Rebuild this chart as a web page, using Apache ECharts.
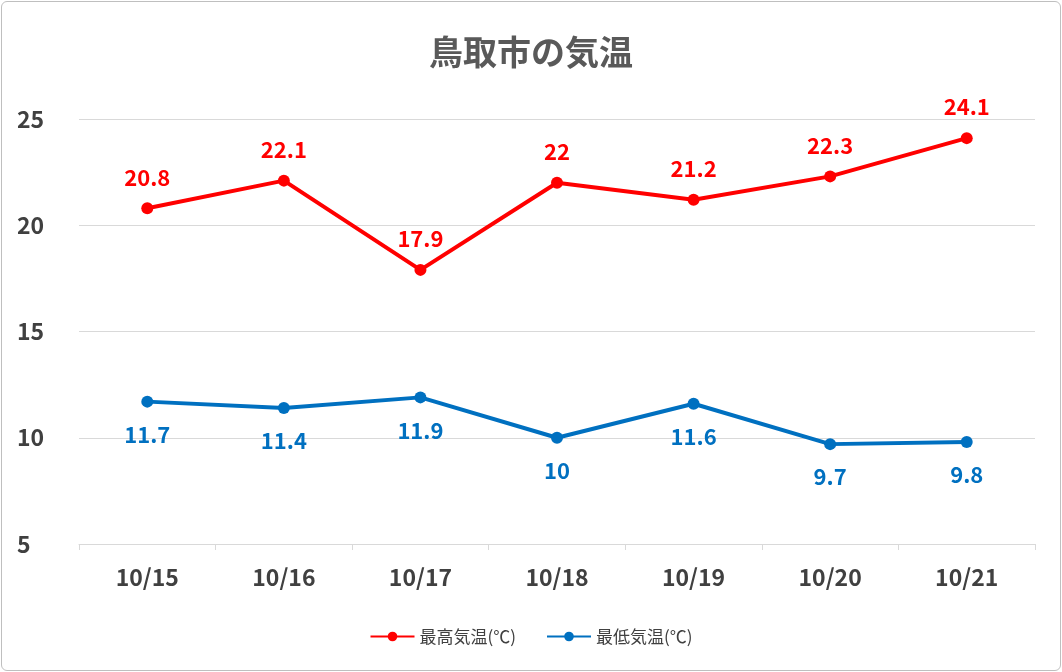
<!DOCTYPE html>
<html><head><meta charset="utf-8">
<script src="https://cdn.jsdelivr.net/npm/echarts@6/dist/echarts.min.js"></script>
<style>html,body{margin:0;padding:0;background:#fff}
#c{width:1060px;height:670px;border:1px solid #bfbfbf;border-radius:6px;box-sizing:border-box;position:absolute;left:1px;top:1px}</style>
</head><body><div id="c"></div>
<script>
const categories = ['10/15','10/16','10/17','10/18','10/19','10/20','10/21'];
const maxTemp = [20.8,22.1,17.9,22,21.2,22.3,24.1];
const minTemp = [11.7,11.4,11.9,10,11.6,9.7,9.8];
const chart = echarts.init(document.getElementById('c'));
const font = "'Noto Sans CJK JP', sans-serif";
chart.setOption({
  animation:false,
  title:{text:'鳥取市の気温',left:'center',top:28,textStyle:{fontFamily:font,fontSize:34,fontWeight:'bold',color:'#595959'}},
  grid:{left:77,right:25,top:117,bottom:126},
  legend:{bottom:20,itemGap:30,itemWidth:44,itemHeight:12,textStyle:{fontFamily:font,fontSize:17,color:'#404040'}},
  xAxis:{type:'category',data:categories,boundaryGap:true,
    axisLine:{lineStyle:{color:'#d9d9d9'}},axisTick:{show:true,lineStyle:{color:'#d9d9d9'},length:6},
    axisLabel:{fontFamily:font,fontSize:23,fontWeight:'bold',color:'#404040',margin:22}},
  yAxis:{type:'value',min:5,max:25,interval:5,
    axisLine:{show:false},axisTick:{show:false},
    splitLine:{lineStyle:{color:'#d9d9d9'}},
    axisLabel:{fontFamily:font,fontSize:23,fontWeight:'bold',color:'#404040',margin:62,align:'left'}},
  series:[
    {name:'最高気温(℃)',type:'line',data:maxTemp,color:'#ff0000',symbol:'circle',symbolSize:12,
     lineStyle:{width:4},label:{show:true,position:'top',distance:14,fontFamily:font,fontSize:22,fontWeight:'bold',color:'#ff0000'}},
    {name:'最低気温(℃)',type:'line',data:minTemp,color:'#0070c0',symbol:'circle',symbolSize:12,
     lineStyle:{width:4},label:{show:true,position:'bottom',distance:16,fontFamily:font,fontSize:22,fontWeight:'bold',color:'#0070c0'}}
  ]
});
</script></body></html>
